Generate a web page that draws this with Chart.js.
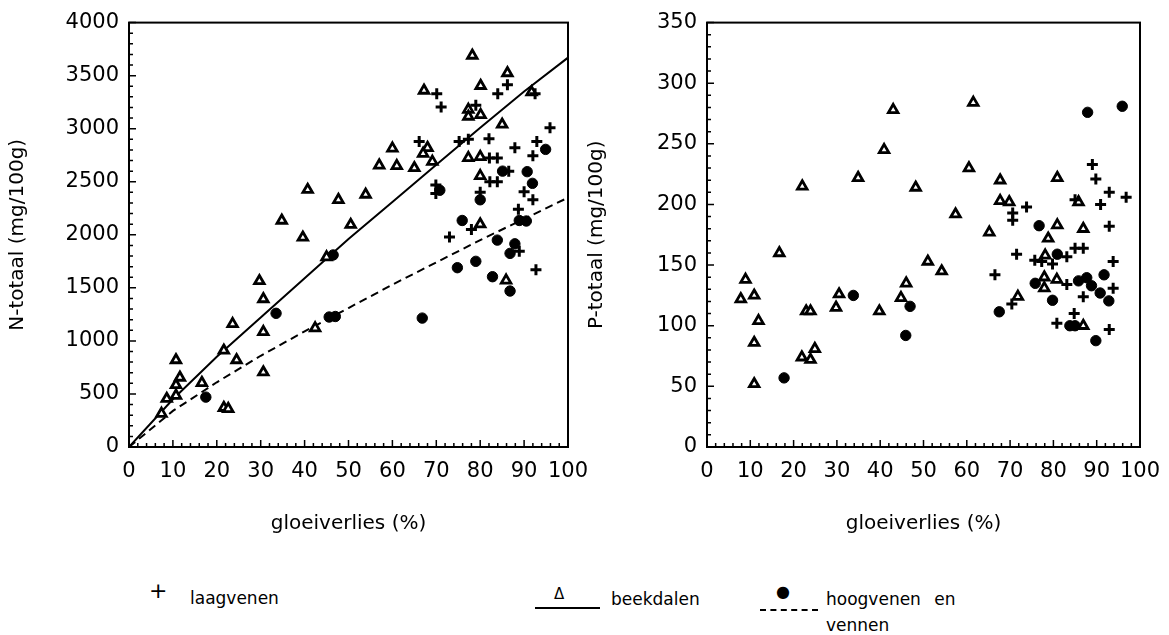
<!DOCTYPE html>
<html>
<head>
<meta charset="utf-8">
<script src="https://cdn.jsdelivr.net/npm/chart.js@4.4.1/dist/chart.umd.min.js"></script>
<style>
  body { margin: 0; background: #fff; width: 1169px; height: 635px; position: relative; overflow: hidden;
         font-family: "DejaVu Sans", sans-serif; color: #000; }
  canvas { position: absolute; top: 0; }
  #cN { left: 0; }
  #cP { left: 575px; }
  .lg { position: absolute; font-size: 17px; line-height: 20px; white-space: nowrap; }
  .ln { position: absolute; height: 0; border-top: 2px solid #000; }
</style>
</head>
<body>
<canvas id="cN" width="602" height="545"></canvas>
<canvas id="cP" width="599" height="545"></canvas>

<div class="lg" style="left:149px;top:581px;font-size:22px">+</div>
<div class="lg" style="left:190px;top:588px">laagvenen</div>
<div class="lg" style="left:554px;top:584px;font-size:15px">Δ</div>
<div class="ln" style="left:535px;top:607px;width:65px"></div>
<div class="lg" style="left:611px;top:589px">beekdalen</div>
<div class="lg" style="left:776px;top:582px;font-size:16px">●</div>
<div class="ln" style="left:760px;top:609px;width:58px;border-top-style:dashed"></div>
<div class="lg" style="left:826px;top:589px;word-spacing:8px">hoogvenen en</div>
<div class="lg" style="left:826px;top:615px">vennen</div>

<script>
// N-totaal tegen gloeiverlies
const laagNx = [66.1, 70.1, 71.1, 79, 84, 86.2, 92.5, 75.2, 77.3, 82, 95.9, 87.9, 92.9, 92, 82.1, 83.9, 82.2, 83.9, 69.9, 69.9, 80, 90, 92, 88.7, 78, 73, 88.9, 92.7, 86.5];
const laagNy = [2880, 3330, 3205, 3220, 3330, 3415, 3330, 2880, 2900, 2905, 3010, 2820, 2880, 2745, 2725, 2725, 2500, 2500, 2470, 2390, 2400, 2405, 2330, 2240, 2050, 1980, 1845, 1670, 2600];

const beekNx = [78.2, 86.2, 80.1, 67.2, 91.7, 77.3, 77.3, 80.1, 85, 60, 57, 61, 65, 69.1, 68, 67, 77.3, 80, 80, 47.7, 53.9, 50.5, 40.7, 34.8, 39.6, 80, 85.9, 42.4, 45, 29.7, 30.6, 23.6, 30.6, 21.6, 24.5, 30.6, 10.7, 11.6, 10.7, 10.7, 8.6, 16.6, 7.4, 21.6, 22.6];
const beekNy = [3690, 3525, 3405, 3360, 3345, 3180, 3115, 3130, 3040, 2815, 2655, 2650, 2630, 2690, 2820, 2765, 2725, 2735, 2555, 2330, 2380, 2095, 2425, 2135, 1975, 2100, 1570, 1120, 1790, 1565, 1395, 1160, 1085, 910, 820, 705, 820, 655, 585, 485, 455, 605, 315, 370, 360];

const hoogNx = [94.9, 70.8, 80, 85.1, 90.7, 91.9, 88.9, 90.5, 75.9, 83.9, 87.9, 86.8, 74.8, 79, 82.8, 86.8, 66.8, 46.5, 45.6, 47, 33.5, 17.5];
const hoogNy = [2805, 2420, 2330, 2600, 2595, 2485, 2135, 2130, 2135, 1950, 1915, 1825, 1690, 1750, 1605, 1470, 1215, 1810, 1225, 1230, 1260, 470];

const fitX = [0, 10, 20, 30, 40, 50, 60, 70, 80, 90, 100];
const fitBeekN = [0, 450, 850, 1220, 1590, 1960, 2310, 2660, 3010, 3350, 3670];
const fitHoogN = [0, 340, 610, 860, 1090, 1310, 1530, 1740, 1950, 2150, 2350];

// P-totaal tegen gloeiverlies
const laagPx = [89, 89.8, 92.9, 90.9, 96.8, 73.8, 70.6, 70.6, 92.9, 71.5, 75.7, 77.3, 79.8, 83.1, 85, 86.9, 93.8, 66.5, 83.1, 86.9, 93.8, 70.4, 84.8, 80.8, 92.9, 85];
const laagPy = [233, 221, 210, 200, 206, 198, 193, 187, 182, 159, 154, 153, 151, 157, 164, 164, 153, 142, 134, 124, 131, 118, 110, 102, 97, 204];

const beekPx = [22, 16.7, 8.9, 7.8, 10.9, 11.9, 10.9, 10.9, 22.9, 23.9, 21.9, 23.9, 24.9, 29.8, 30.5, 43, 61.5, 40.9, 34.9, 48.2, 60.5, 57.4, 65.2, 39.8, 51, 54.2, 46, 44.8, 67.7, 80.9, 67.7, 69.8, 80.9, 86.9, 78.8, 78.1, 77.9, 77.9, 80.8, 71.8, 86.9, 85.8];
const beekPy = [215, 160, 138, 122, 125, 104, 86, 52, 112, 112, 74, 72, 81, 115, 126, 278, 284, 245, 222, 214, 230, 192, 177, 112, 153, 145, 135, 123, 220, 222, 203, 202, 183, 180, 172, 158, 140, 131, 138, 124, 100, 202];

const hoogPx = [17.8, 33.8, 46.9, 45.9, 76.7, 80.9, 75.8, 79.8, 85.8, 87.7, 88.8, 91.7, 90.8, 92.8, 67.5, 83.8, 85, 89.8, 87.9, 95.9];
const hoogPy = [57, 125, 116, 92, 182.5, 159, 135, 121, 137, 139.6, 133, 142, 127, 120.5, 111.5, 100, 100, 87.7, 276, 281];

const xTitle = 'gloeiverlies (%)';

function pts(xs, ys) {
  return xs.map((x, i) => ({ x: x, y: ys[i] }));
}
function isMult(v, m) {
  return Math.abs(Math.round(v / m) * m - v) < 1e-6;
}

const tickFont = { family: 'DejaVu Sans', size: 21 };
const titleFont = { family: 'DejaVu Sans', size: 20 };

// kader en naar binnen gerichte streepjes
const frame = {
  id: 'frame',
  afterDatasetsDraw(chart, args, opts) {
    const { ctx, chartArea: a, scales } = chart;
    ctx.save();
    ctx.strokeStyle = '#000';
    ctx.lineWidth = 2;
    ctx.strokeRect(a.left, a.top, a.right - a.left, a.bottom - a.top);
    ctx.lineWidth = 1.5;
    ctx.beginPath();
    scales.x.ticks.forEach(t => {
      const px = scales.x.getPixelForValue(t.value);
      const len = isMult(t.value, 10) ? 7 : 4;
      ctx.moveTo(px, a.bottom);
      ctx.lineTo(px, a.bottom - len);
    });
    scales.y.ticks.forEach(t => {
      const py = scales.y.getPixelForValue(t.value);
      const len = isMult(t.value, opts.yMajor) ? 7 : 4;
      ctx.moveTo(a.left, py);
      ctx.lineTo(a.left + len, py);
    });
    ctx.stroke();
    ctx.restore();
  }
};

function scatterSets(lx, ly, bx, by, hx, hy) {
  return [
    { label: 'laagvenen', data: pts(lx, ly), pointStyle: 'cross', pointRadius: 5.5, borderColor: '#000', borderWidth: 3 },
    { label: 'beekdalen', data: pts(bx, by), pointStyle: 'triangle', pointRadius: 5.5, borderColor: '#000', backgroundColor: '#fff', borderWidth: 2.8 },
    { label: 'hoogvenen en vennen', data: pts(hx, hy), pointStyle: 'circle', pointRadius: 5.2, borderColor: '#000', backgroundColor: '#000', borderWidth: 1 }
  ];
}

function makeOptions(yMax, yStep, yMajor, yTitle, yWidth, titlePad, rightPad) {
  return {
    responsive: false,
    animation: false,
    devicePixelRatio: 1,
    layout: { padding: { top: 20, right: rightPad, left: 0, bottom: 0 } },
    plugins: { legend: { display: false }, tooltip: { enabled: false }, frame: { yMajor: yMajor } },
    scales: {
      x: {
        type: 'linear', min: 0, max: 100,
        afterFit: s => { s.height = 98; },
        grid: { display: false, drawTicks: false },
        border: { display: false },
        ticks: { stepSize: 2, autoSkip: false, maxRotation: 0, padding: 12, color: '#000', font: tickFont,
                 callback: v => isMult(v, 10) ? Math.round(v) : '' },
        title: { display: true, text: xTitle, color: '#000', font: titleFont, padding: { top: 0, bottom: 9 } }
      },
      y: {
        type: 'linear', min: 0, max: yMax,
        afterFit: s => { s.width = yWidth; },
        grid: { display: false, drawTicks: false },
        border: { display: false },
        ticks: { stepSize: yStep, autoSkip: false, padding: 10, color: '#000', font: tickFont,
                 callback: v => isMult(v, yMajor) ? Math.round(v) : '' },
        title: { display: true, text: yTitle, color: '#000', font: titleFont, padding: { top: titlePad, bottom: 0 } }
      }
    }
  };
}

const nSets = scatterSets(laagNx, laagNy, beekNx, beekNy, hoogNx, hoogNy);
nSets.push({ type: 'line', label: 'beekdalen lijn', data: pts(fitX, fitBeekN), showLine: true, borderColor: '#000', borderWidth: 2, pointRadius: 0, fill: false });
nSets.push({ type: 'line', label: 'hoogvenen lijn', data: pts(fitX, fitHoogN), showLine: true, borderColor: '#000', borderWidth: 2, borderDash: [8, 5], pointRadius: 0, fill: false });

new Chart(document.getElementById('cN'), {
  type: 'scatter',
  data: { datasets: nSets },
  options: makeOptions(4000, 100, 500, 'N-totaal (mg/100g)', 129, 6, 34),
  plugins: [frame]
});

new Chart(document.getElementById('cP'), {
  type: 'scatter',
  data: { datasets: scatterSets(laagPx, laagPy, beekPx, beekPy, hoogPx, hoogPy) },
  options: makeOptions(350, 10, 50, 'P-totaal (mg/100g)', 132, 10, 34),
  plugins: [frame]
});
</script>
</body>
</html>
